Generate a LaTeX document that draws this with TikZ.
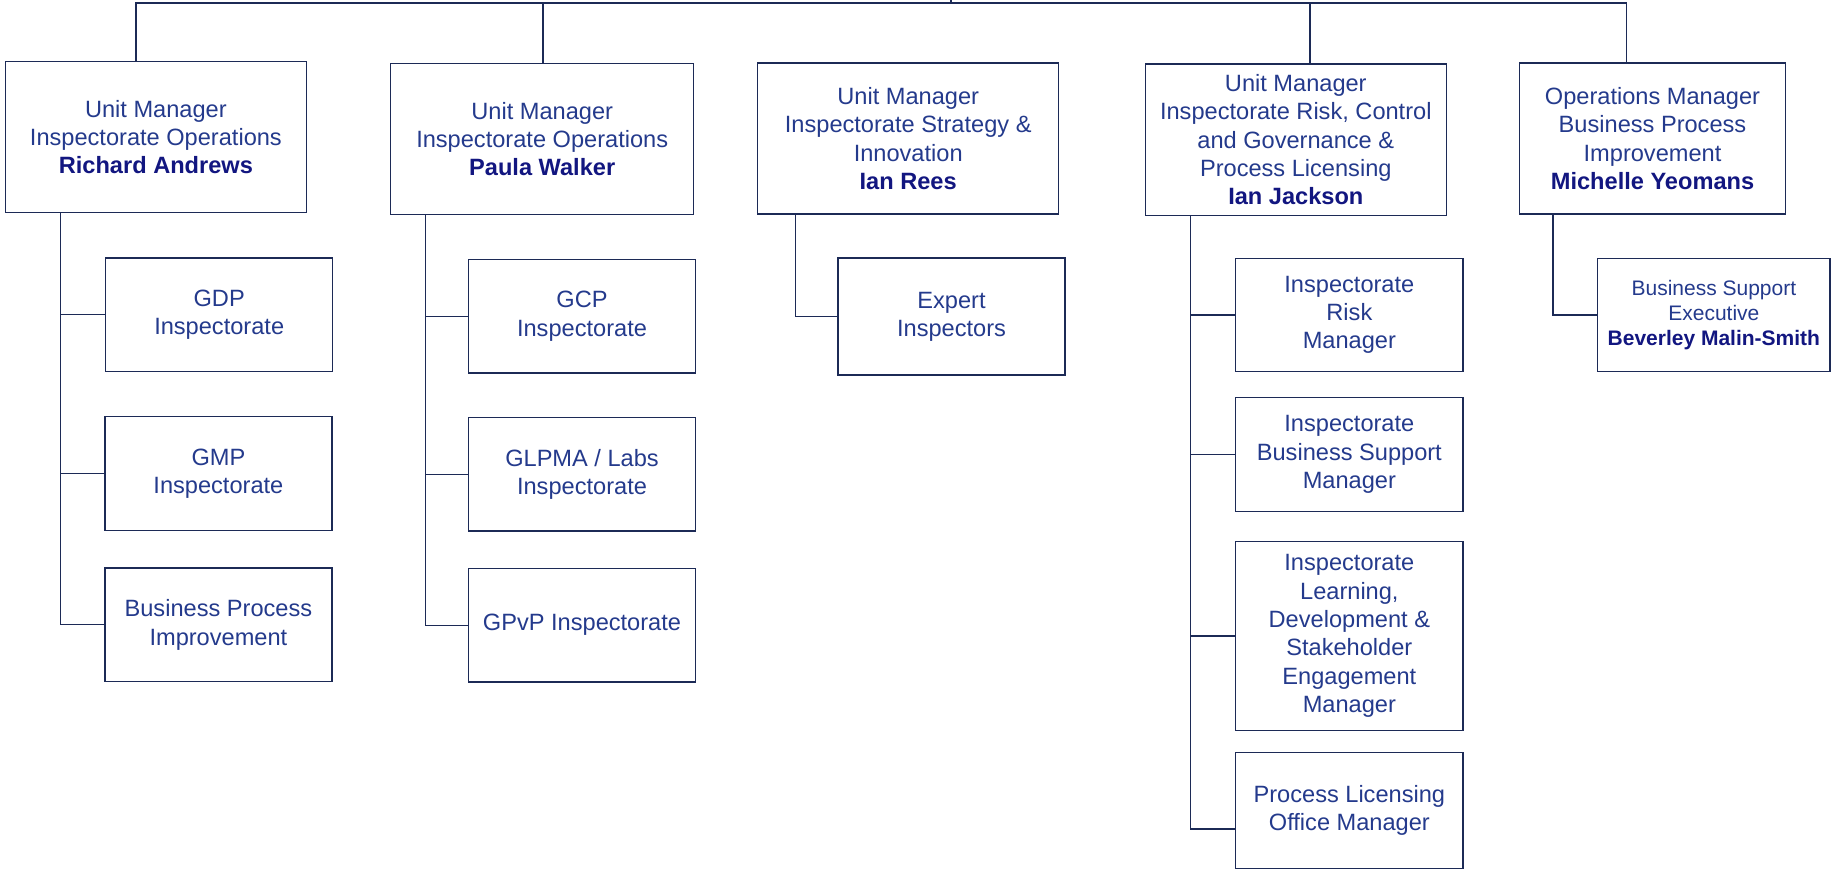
\documentclass[tikz,border=0pt]{standalone}
\usepackage{fontspec}
\setmainfont{Liberation Sans}
\definecolor{navy}{RGB}{28,42,86}
\definecolor{textblue}{RGB}{36,58,140}
\definecolor{nameblue}{RGB}{18,22,128}
\newcommand{\person}[1]{{\bfseries\color{nameblue}#1}}

\begin{document}
\begin{tikzpicture}[x=1pt, y=-1pt,
    unit/.style={draw=navy, line width=1.4pt, anchor=north west, align=center,
        text=textblue, inner sep=0pt, minimum width=301pt, minimum height=151pt,
        font=\fontsize{23.6}{28.3}\selectfont},
    team/.style={unit, minimum width=227pt, minimum height=113.5pt},
    link/.style={draw=navy, line width=1.2pt}]
    \useasboundingbox (0,0) rectangle (1833,869);

    % unit managers
    \node[unit] (ra) at (4.7,61) {Unit Manager\\Inspectorate Operations\\\person{Richard Andrews}};
    \node[unit, minimum width=303pt] (pw) at (390,62.7) {Unit Manager\\Inspectorate Operations\\\person{Paula Walker}};
    \node[unit] (ir) at (757,62.3) {Unit Manager\\Inspectorate Strategy \&\\Innovation\\\person{Ian Rees}};
    \node[unit, minimum height=151.7pt] (ij) at (1144.6,63.3) {Unit Manager\\Inspectorate Risk, Control\\and Governance \&\\Process Licensing\\\person{Ian Jackson}};
    \node[unit, minimum width=266.2pt] (my) at (1518.7,62.3) {Operations Manager\\Business Process\\Improvement\\\person{Michelle Yeomans}};

    % teams
    \node[team] (gdp) at (105,257.3) {GDP\\Inspectorate};
    \node[team] (gmp) at (104.2,416) {GMP\\Inspectorate};
    \node[team] (bpi) at (104.2,567.3) {Business Process\\Improvement};

    \node[team] (gcp) at (467.8,258.7) {GCP\\Inspectorate};
    \node[team] (glp) at (467.8,416.7) {GLPMA / Labs\\Inspectorate};
    \node[team] (gpvp) at (467.8,567.7) {GPvP Inspectorate};

    \node[team, minimum height=117pt] (exp) at (837.3,257.3) {Expert\\Inspectors};

    \node[team, minimum width=227.3pt, minimum height=113.2pt] (risk) at (1235,257.7) {Inspectorate\\Risk\\Manager};
    \node[team, minimum width=227.3pt, minimum height=113.7pt] (bsm) at (1235,397) {Inspectorate\\Business Support\\Manager};
    \node[team, minimum width=227.3pt, minimum height=189pt] (ldm) at (1235,540.8) {Inspectorate\\Learning,\\Development \&\\Stakeholder\\Engagement\\Manager};
    \node[team, minimum width=227.3pt, minimum height=116pt] (plm) at (1235,751.7) {Process Licensing\\Office Manager};

    \node[team, minimum width=232.3pt, minimum height=113.3pt,
        font=\fontsize{21}{25.3}\selectfont] (bse) at (1597,257.7) {Business Support\\Executive\\\person{Beverley Malin-Smith}};

    % bus along the top
    \coordinate (up) at (951,0);
    \coordinate (bus) at (951,3);
    \coordinate (b1) at (136,3);
    \coordinate (b2) at (543,3);
    \coordinate (b4) at (1310,3);
    \coordinate (b5) at (1626.6,3);
    \draw[link] (up) -- (bus);
    \draw[link] (b1 |- ra.north) -- (b1) -- (b5) -- (b5 |- my.north);
    \draw[link] (b2) -- (b2 |- pw.north);
    \draw[link] (b4) -- (b4 |- ij.north);

    % trunks down to the teams
    \coordinate (t1) at (60.6,0);
    \coordinate (t2) at (425.6,0);
    \coordinate (t3) at (795.7,0);
    \coordinate (t4) at (1190.7,0);
    \coordinate (t5) at (1553,0);
    \foreach \b in {gdp,gmp,bpi}
        \draw[link] (t1 |- ra.south) |- (\b.west);
    \foreach \b in {gcp,glp,gpvp}
        \draw[link] (t2 |- pw.south) |- (\b.west);
    \draw[link] (t3 |- ir.south) |- (exp.west);
    \foreach \b in {risk,bsm,ldm}
        \draw[link] (t4 |- ij.south) |- (\b.west);
    \draw[link] (t4 |- ij.south) |- ([yshift=-18.5pt]plm.west);
    \draw[link] (t5 |- my.south) |- (bse.west);
\end{tikzpicture}
\end{document}
